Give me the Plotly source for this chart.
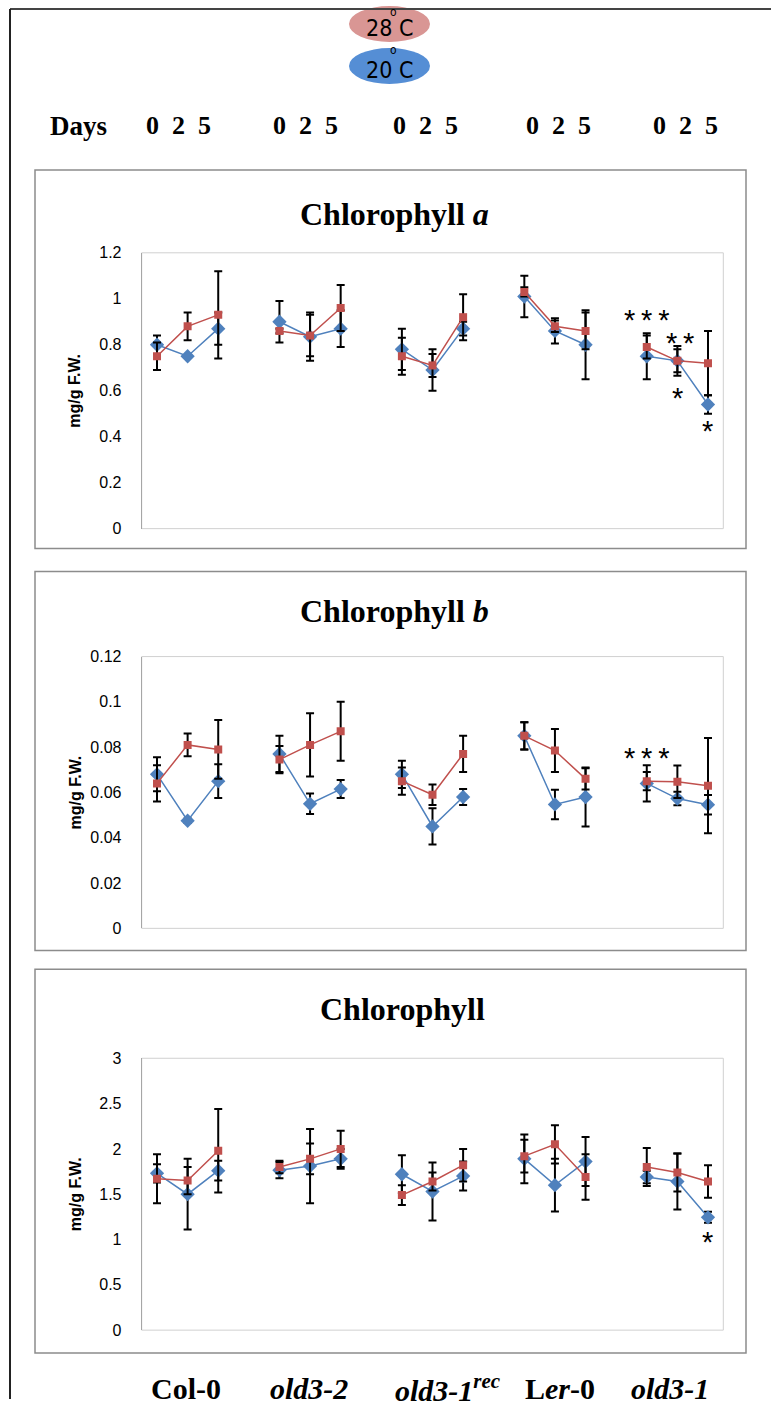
import plotly.graph_objects as go

# ---- data -------------------------------------------------------------
genotypes = ["Col-0", "old3-2", "old3-1rec", "Ler-0", "old3-1"]
genotype_labels = ["<b>Col-0</b>", "<b><i>old3-2</i></b>",
                   "<b><i>old3-1</i><sup><i>rec</i></sup></b>",
                   "<b>L<i>er</i>-0</b>", "<b><i>old3-1</i></b>"]
days = [0, 2, 5]

# Chlorophyll a (mg/g F.W.)
chla_20 = [0.80, 0.75, 0.87, 0.90, 0.835, 0.87, 0.78, 0.69, 0.87,
           1.01, 0.86, 0.80, 0.75, 0.73, 0.54]
chla_20_err = [0.04, 0.005, 0.07, 0.09, 0.105, 0.08, 0.09, 0.09, 0.03,
               0.09, 0.055, 0.15, 0.10, 0.065, 0.04]
chla_28 = [0.75, 0.88, 0.93, 0.86, 0.84, 0.96, 0.75, 0.71, 0.92,
           1.03, 0.88, 0.86, 0.79, 0.73, 0.72]
chla_28_err = [0.06, 0.06, 0.19, 0.01, 0.09, 0.10, 0.08, 0.05, 0.10,
               0.02, 0.025, 0.08, 0.05, 0.05, 0.14]

# Chlorophyll b (mg/g F.W.)
chlb_20 = [0.068, 0.0475, 0.065, 0.077, 0.055, 0.0615, 0.068, 0.045, 0.058,
           0.085, 0.0547, 0.058, 0.064, 0.0573, 0.0546]
chlb_20_err = [0.0075, 0.001, 0.0075, 0.008, 0.0045, 0.004, 0.006, 0.008, 0.0035,
               0.006, 0.0065, 0.013, 0.008, 0.003, 0.0043]
chlb_28 = [0.064, 0.081, 0.079, 0.0745, 0.081, 0.087, 0.065, 0.059, 0.077,
           0.085, 0.0785, 0.066, 0.065, 0.0647, 0.063]
chlb_28_err = [0.008, 0.005, 0.013, 0.006, 0.014, 0.013, 0.006, 0.0045, 0.008,
               0.006, 0.0095, 0.0047, 0.004, 0.0072, 0.021]

# Total chlorophyll (mg/g F.W.)
chl_20 = [1.73, 1.50, 1.76, 1.765, 1.81, 1.89, 1.72, 1.53, 1.70,
          1.89, 1.60, 1.86, 1.69, 1.64, 1.245]
chl_20_err = [0.10, 0.39, 0.11, 0.09, 0.41, 0.11, 0.21, 0.32, 0.16,
              0.27, 0.29, 0.27, 0.07, 0.31, 0.06]
chl_28 = [1.67, 1.65, 1.98, 1.80, 1.89, 2.00, 1.49, 1.64, 1.82,
          1.92, 2.05, 1.69, 1.80, 1.74, 1.64]
chl_28_err = [0.27, 0.15, 0.46, 0.07, 0.17, 0.20, 0.11, 0.10, 0.18,
              0.18, 0.21, 0.25, 0.21, 0.21, 0.18]

# y-axis ticks per panel
ticks_a = [0, 0.2, 0.4, 0.6, 0.8, 1, 1.2]
ticks_b = [0, 0.02, 0.04, 0.06, 0.08, 0.1, 0.12]
ticks_t = [0, 0.5, 1, 1.5, 2, 2.5, 3]

# significance marks: (panel, category x, y value, text)
STAR3 = "*\u2009*\u2009*"
STAR2 = "*\u2009*"
stars = [
    (1, 16.0, 0.935, STAR3),
    (1, 17.1, 0.835, STAR2),
    (1, 17.0, 0.595, "*"),
    (1, 18.0, 0.450, "*"),
    (2, 16.0, 0.078, STAR3),
    (3, 18.0, 1.035, "*"),
]

# ---- layout helpers (pixel positions on the 771 x 1408 figure) -----------
W, H = 771, 1408
def px(x):
    return x / W
def py(y):
    return 1 - y / H

BLUE = "#4f81bd"
RED = "#c0504d"
SERIF = "Liberation Serif, Times New Roman, serif"
SANS = "Liberation Sans, Arial, sans-serif"
NARROW = "Liberation Sans Narrow, DejaVu Sans Condensed, sans-serif"

def positions():
    # each genotype occupies 3 day slots followed by an empty slot
    xs = []
    for g in range(len(genotypes)):
        for d in range(len(days)):
            xs.append(g * 4 + d)
    return xs

def with_breaks(vals):
    out = []
    for i, v in enumerate(vals):
        out.append(v)
        if i % 3 == 2 and i < len(vals) - 1:
            out.append(None)
    return out

X = with_breaks(positions())

fig = go.Figure()

panels = [
    (chla_20, chla_20_err, chla_28, chla_28_err, ticks_a, (247.8, 527.0)),
    (chlb_20, chlb_20_err, chlb_28, chlb_28_err, ticks_b, (656.5, 931.6)),
    (chl_20, chl_20_err, chl_28, chl_28_err, ticks_t, (1063.1, 1338.3)),
]
titles = ["<b>Chlorophyll <i>a</i></b>", "<b>Chlorophyll <i>b</i></b>",
          "<b>Chlorophyll</b>"]
title_pos = [(395, 208.4), (395, 609.9), (402, 1013.6)]
boxes = [(163.9, 547.2), (570.5, 953.9), (973.1, 1361.5)]

PLOT_L, PLOT_R = 141.7, 723.3
shapes = []
annotations = []

for i, (b, be, r, re_, tv, (ytop, ybot)) in enumerate(panels, start=1):
    xa = "x" if i == 1 else f"x{i}"
    ya = "y" if i == 1 else f"y{i}"
    for vals, errs, color, sym, size in [(b, be, BLUE, "diamond", 11),
                                         (r, re_, RED, "square", 8)]:
        fig.add_trace(go.Scatter(
            x=X, y=with_breaks(vals), xaxis=xa, yaxis=ya,
            mode="lines+markers", connectgaps=False,
            line=dict(color=color, width=1.5),
            marker=dict(symbol=sym, size=size, color=color),
            error_y=dict(type="data", array=with_breaks(errs), visible=True,
                         color="black", thickness=2, width=4),
            showlegend=False, hoverinfo="skip",
        ))
    fig.layout[f"xaxis{'' if i == 1 else i}"] = dict(
        domain=[px(PLOT_L), px(PLOT_R)], anchor=ya, range=[-0.5, 18.5],
        showticklabels=False, showgrid=False, zeroline=False, ticks="",
        showline=False, fixedrange=True)
    fig.layout[f"yaxis{'' if i == 1 else i}"] = dict(
        domain=[py(ybot), py(ytop)], anchor=xa, range=[tv[0], tv[-1]],
        tickvals=tv, ticktext=[f"{t:g}" for t in tv],
        tickfont=dict(family=SANS, size=16, color="black"),
        ticklabelstandoff=16, showgrid=False, zeroline=False, ticks="",
        showline=True, linecolor="#a6a6a6", linewidth=1, fixedrange=True)
    # plot-area border
    shapes.append(dict(type="rect", xref="paper", yref="paper",
                       x0=px(PLOT_L), x1=px(PLOT_R), y0=py(ybot), y1=py(ytop),
                       line=dict(color="#d0d0d0", width=1), layer="below"))
    # chart box
    shapes.append(dict(type="rect", xref="paper", yref="paper",
                       x0=px(35), x1=px(746), y0=py(boxes[i - 1][1]),
                       y1=py(boxes[i - 1][0]),
                       line=dict(color="#8c8c8c", width=1.5), layer="below"))
    tx, ty = title_pos[i - 1]
    annotations.append(dict(text=titles[i - 1], xref="paper", yref="paper",
                            x=px(tx), y=py(ty), showarrow=False,
                            font=dict(family=SERIF, size=32, color="black"),
                            xanchor="center", yanchor="middle"))
    annotations.append(dict(text="<b>mg/g F.W.</b>", xref="paper", yref="paper",
                            x=px(75), y=py((ytop + ybot) / 2), showarrow=False,
                            textangle=-90,
                            font=dict(family=SANS, size=16, color="black"),
                            xanchor="center", yanchor="middle"))

for panel, sx, sy, txt in stars:
    xa = "x" if panel == 1 else f"x{panel}"
    ya = "y" if panel == 1 else f"y{panel}"
    annotations.append(dict(text=txt, xref=xa, yref=ya, x=sx, y=sy,
                            showarrow=False, yshift=-6,
                            font=dict(family=SANS, size=29, color="black"),
                            xanchor="center", yanchor="middle"))

# outer frame
shapes.append(dict(type="line", xref="paper", yref="paper",
                   x0=px(10), x1=px(771), y0=py(1), y1=py(1),
                   line=dict(color="#444444", width=2)))
shapes.append(dict(type="line", xref="paper", yref="paper",
                   x0=px(10), x1=px(10), y0=0, y1=py(1),
                   line=dict(color="#222222", width=2)))

# temperature key
for (cy, fill, label, oy) in [(16.2, "#d99694", "28", 4.0),
                              (58.7, "#558ed5", "20", 43.0)]:
    shapes.append(dict(type="circle", xref="paper", yref="paper",
                       x0=px(349), x1=px(430), y0=py(cy + 18.2),
                       y1=py(cy - 18.2),
                       fillcolor=fill, line=dict(width=0), layer="below"))
    annotations.append(dict(text=f"{label} C", xref="paper", yref="paper",
                            x=px(389), y=py(cy + 4), showarrow=False,
                            font=dict(family=NARROW, size=23, color="black"),
                            xanchor="center", yanchor="middle"))
    annotations.append(dict(text="o", xref="paper", yref="paper",
                            x=px(394), y=py(oy), showarrow=False,
                            font=dict(family=NARROW, size=12, color="black"),
                            xanchor="center", yanchor="middle"))

# day header
annotations.append(dict(text="<b>Days</b>", xref="paper", yref="paper",
                        x=px(78), y=py(119.4), showarrow=False,
                        font=dict(family=SERIF, size=27, color="black"),
                        xanchor="center", yanchor="middle"))
day_text = "\u00a0\u00a0".join(str(d) for d in days)
for cx in [178, 305, 425, 558, 685]:
    annotations.append(dict(text=f"<b>{day_text}</b>", xref="paper",
                            yref="paper", x=px(cx), y=py(119.4),
                            showarrow=False,
                            font=dict(family=SERIF, size=26, color="black"),
                            xanchor="center", yanchor="middle"))

# genotype labels
for cx, lab in zip([186, 309, 448, 560, 670], genotype_labels):
    annotations.append(dict(text=lab, xref="paper", yref="paper",
                            x=px(cx), y=py(1397), showarrow=False,
                            font=dict(family=SERIF, size=30, color="black"),
                            xanchor="center", yanchor="middle"))

fig.update_layout(width=W, height=H, margin=dict(l=0, r=0, t=0, b=0),
                  paper_bgcolor="white", plot_bgcolor="white",
                  shapes=shapes, annotations=annotations)

fig.write_html("out.html")
